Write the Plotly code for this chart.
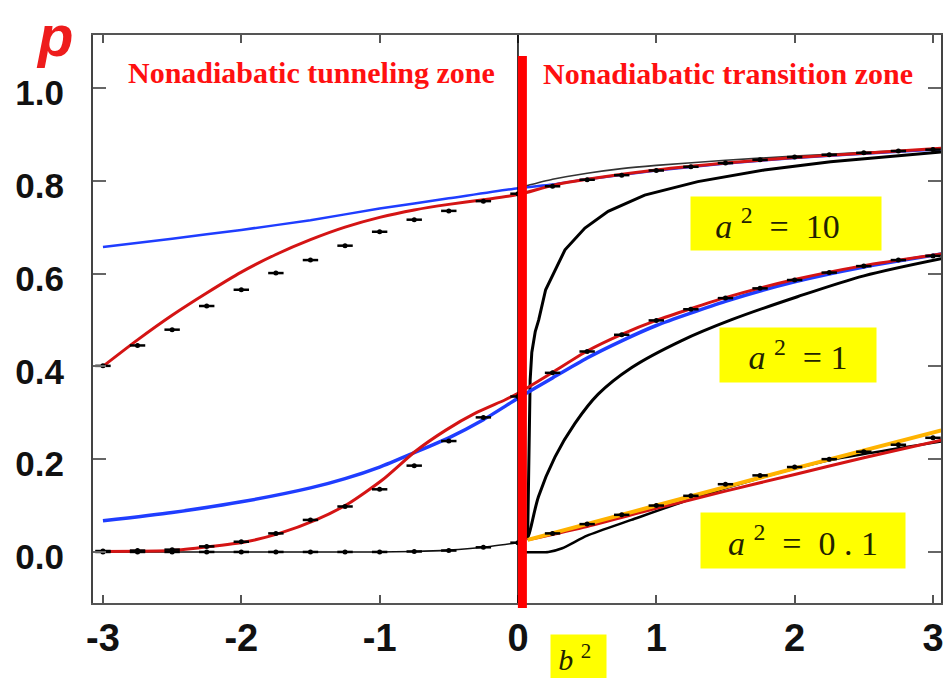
import plotly.graph_objects as go

# ---- marker grid (b^2) ----
mk_x = [-3.0, -2.75, -2.5, -2.25, -2.0, -1.75, -1.5, -1.25, -1.0, -0.75, -0.5, -0.25, 0.0,
        0.25, 0.5, 0.75, 1.0, 1.25, 1.5, 1.75, 2.0, 2.25, 2.5, 2.75, 3.0]

# ---- a^2 = 10 ----
mk10 = [0.401, 0.445, 0.479, 0.530, 0.565, 0.601, 0.629, 0.660, 0.690, 0.716, 0.735, 0.756, 0.772,
        0.788, 0.802, 0.812, 0.822, 0.830, 0.838, 0.845, 0.851, 0.856, 0.860, 0.864, 0.867]
blue10_x = [-3.0, -2.5, -2.0, -1.5, -1.0, -0.5, 0.0, 0.25, 0.5, 1.0, 1.5, 2.0, 2.5, 3.06]
blue10_p = [0.657, 0.675, 0.694, 0.715, 0.740, 0.762, 0.784, 0.792, 0.803, 0.822, 0.837, 0.849, 0.858, 0.868]
red10_x = [-3.0, -2.75, -2.5, -2.25, -2.0, -1.75, -1.5, -1.25, -1.0, -0.75, -0.5, -0.25, 0.0,
           0.25, 0.5, 1.0, 1.5, 2.0, 2.5, 3.06]
red10_p = [0.400, 0.457, 0.510, 0.558, 0.603, 0.641, 0.673, 0.700, 0.721, 0.737, 0.749, 0.759, 0.770,
           0.790, 0.803, 0.823, 0.838, 0.850, 0.859, 0.870]
thin10_x = [0.05, 0.25, 0.5, 0.75, 1.0, 1.5, 2.0, 2.5, 3.06]
thin10_p = [0.788, 0.803, 0.816, 0.826, 0.833, 0.844, 0.853, 0.861, 0.869]
black10_x = [0.07, 0.075, 0.08, 0.088, 0.10, 0.125, 0.15, 0.2, 0.34, 0.484, 0.652, 0.916,
             1.30, 1.78, 2.26, 3.06]
black10_p = [0.03, 0.12, 0.26, 0.37, 0.43, 0.475, 0.50, 0.565, 0.651, 0.698, 0.734, 0.769,
             0.798, 0.823, 0.841, 0.862]

# ---- a^2 = 1 ----
mk1 = [0.002, 0.003, 0.005, 0.012, 0.022, 0.040, 0.069, 0.098, 0.135, 0.186, 0.239, 0.290, 0.335,
       0.386, 0.432, 0.468, 0.499, 0.523, 0.547, 0.568, 0.586, 0.602, 0.616, 0.629, 0.638]
blue1_x = [-3.0, -2.5, -2.0, -1.5, -1.25, -1.0, -0.75, -0.5, -0.25, 0.0,
           0.25, 0.5, 0.75, 1.0, 1.5, 2.0, 2.5, 3.06]
blue1_p = [0.067, 0.085, 0.108, 0.138, 0.158, 0.183, 0.214, 0.246, 0.285, 0.331,
           0.375, 0.418, 0.455, 0.488, 0.540, 0.582, 0.614, 0.642]
red1_x = [-3.0, -2.5, -2.24, -1.965, -1.725, -1.46, -1.221, -0.981, -0.741, -0.524, -0.308, -0.092, 0.0,
          0.25, 0.5, 0.75, 1.0, 1.5, 2.0, 2.5, 3.06]
red1_p = [0.001, 0.003, 0.011, 0.022, 0.040, 0.069, 0.105, 0.155, 0.217, 0.262, 0.299, 0.328, 0.342,
          0.387, 0.433, 0.469, 0.499, 0.548, 0.587, 0.617, 0.642]
black1_x = [0.06, 0.076, 0.148, 0.268, 0.412, 0.58, 0.82, 1.18, 1.54, 2.02, 2.5, 3.06]
black1_p = [0.028, 0.035, 0.119, 0.205, 0.277, 0.340, 0.397, 0.455, 0.50, 0.55, 0.595, 0.632]

# ---- a^2 = 0.1 ----
mk01 = [0.0, 0.0, 0.0, 0.0, 0.0, 0.0, 0.0, 0.0, 0.0, 0.001, 0.003, 0.010, 0.020,
        0.040, 0.060, 0.080, 0.100, 0.121, 0.146, 0.165, 0.183, 0.200, 0.216, 0.231, 0.246]
thin01_x = [-3.0, -1.0, -0.75, -0.5, -0.25, 0.0]
thin01_p = [0.0, 0.0, 0.001, 0.004, 0.010, 0.020]
black01_x = [0.03, 0.22, 0.32, 0.5, 0.82, 1.30, 1.78, 2.26, 3.06]
black01_p = [0.0, 0.0, 0.008, 0.035, 0.069, 0.119, 0.162, 0.198, 0.238]
red01_x = [0.07, 0.5, 1.0, 1.5, 2.0, 2.5, 3.06]
red01_p = [0.026, 0.055, 0.094, 0.131, 0.167, 0.203, 0.241]
orange01_x = [0.07, 1.0, 2.0, 3.06]
orange01_p = [0.026, 0.100, 0.180, 0.262]

x_ticks = [-3, -2, -1, 0, 1, 2, 3]
x_ticktext = ["-3", "-2", "-1", "0", "1", "2", "3"]
y_ticks = [0.0, 0.2, 0.4, 0.6, 0.8, 1.0]
y_ticktext = ["0.0", "0.2", "0.4", "0.6", "0.8", "1.0"]

BLUE = "#1f3dff"
RED = "#d41414"
ORANGE = "#ffb300"

fig = go.Figure()


def line(x, y, color, width, smooth=0.6):
    shape = dict(shape="spline", smoothing=smooth) if smooth else dict(shape="linear")
    fig.add_trace(go.Scatter(x=x, y=y, mode="lines", line=dict(color=color, width=width, **shape),
                             showlegend=False, hoverinfo="skip"))


# thin reference curves
line(thin01_x, thin01_p, "#111111", 1.6)
line(thin10_x, thin10_p, "#333333", 1.6)

# a^2 = 10
line(black10_x, black10_p, "#000000", 3, smooth=0)
line(blue10_x, blue10_p, BLUE, 2.5)
line(red10_x, red10_p, RED, 3)

# a^2 = 1
line(black1_x, black1_p, "#000000", 3, smooth=0.9)
line(blue1_x, blue1_p, BLUE, 3.5)
line(red1_x, red1_p, RED, 3)

# a^2 = 0.1
line(black01_x, black01_p, "#000000", 2.5)
line(red01_x, red01_p, RED, 3)
line(orange01_x, orange01_p, ORANGE, 4)

# dash-dot markers
for series in (mk10, mk1, mk01):
    fig.add_trace(go.Scatter(x=mk_x, y=series, mode="markers",
                             marker=dict(symbol="line-ew", size=11,
                                         line=dict(color="#000000", width=2.5)),
                             showlegend=False, hoverinfo="skip"))
    fig.add_trace(go.Scatter(x=mk_x, y=series, mode="markers",
                             marker=dict(symbol="circle", size=5, color="#000000"),
                             showlegend=False, hoverinfo="skip"))

# b^2 = 0 divider
fig.add_shape(type="line", xref="x", yref="paper", x0=0, x1=0, y0=0, y1=1,
              line=dict(color="#000000", width=1.5), layer="above")
fig.add_shape(type="line", xref="x", yref="paper", x0=0.032, x1=0.032, y0=-0.009, y1=0.963,
              line=dict(color="#ff0000", width=9), layer="above")

# zone titles
zone_font = dict(family="Liberation Serif, Times New Roman, serif", size=30, color="#ff1010",
                 weight="bold")
fig.add_annotation(x=-1.495, y=1.034, xref="x", yref="y", text="Nonadiabatic tunneling zone",
                   showarrow=False, font=zone_font, xanchor="center", yanchor="middle")
fig.add_annotation(x=1.516, y=1.032, xref="x", yref="y", text="Nonadiabatic transition zone",
                   showarrow=False, font=zone_font, xanchor="center", yanchor="middle")

# axis symbols
fig.add_annotation(x=-0.045, y=1.0, xref="paper", yref="paper", text="<i>p</i>",
                   showarrow=False, xanchor="center", yanchor="middle",
                   font=dict(family="Liberation Sans, Arial, sans-serif", size=58,
                             color="#ee1c1c", weight="bold"))

box_font = dict(family="Liberation Serif, Times New Roman, serif", size=34, color="#222200")
NB = "\u00a0"
labels = [
    (1.935, 0.708, 190, 53, f"<i>a</i>{NB}<sup>2</sup>{NB}{NB}={NB}{NB}10{NB}{NB}"),
    (2.021, 0.4246, 156, 54, f"<i>a</i>{NB}<sup>2</sup>{NB}{NB}={NB}1"),
    (2.064, 0.0248, 204, 55, f"<i>a</i>{NB}<sup>2</sup>{NB}{NB}={NB}{NB}0{NB}.{NB}1"),
]
for lx, ly, w, h, txt in labels:
    fig.add_annotation(x=lx, y=ly, xref="x", yref="y", text=txt, showarrow=False,
                       width=w, height=h, bgcolor="#ffff00", borderpad=0, font=box_font,
                       align="center", valign="middle", xanchor="center", yanchor="middle")

fig.add_annotation(x=0.5728, y=-0.0968, xref="paper", yref="paper",
                   text=f"<i>b</i>{NB}<sup>2</sup>{NB}", showarrow=False,
                   width=55, height=45, bgcolor="#ffff00", borderpad=0,
                   xanchor="center", yanchor="middle",
                   font=dict(family="Liberation Serif, Times New Roman, serif", size=30,
                             color="#222200"))

fig.update_layout(
    width=947, height=678,
    margin=dict(l=93, r=3, t=35, b=75),
    paper_bgcolor="white", plot_bgcolor="white",
    showlegend=False,
)
fig.update_xaxes(
    range=[-3.072, 3.058], tickvals=x_ticks, ticktext=x_ticktext, ticks="inside", ticklen=8,
    tickwidth=2, tickcolor="#555555", showline=True, linecolor="#555555", linewidth=2,
    mirror="ticks", showgrid=False, zeroline=False, ticklabelstandoff=0,
    tickfont=dict(family="Liberation Sans, Arial, sans-serif", size=38, color="#111111",
                  weight="bold"),
)
fig.update_yaxes(
    range=[-0.110, 1.114], tickvals=y_ticks, ticktext=y_ticktext, ticks="inside", ticklen=13,
    tickwidth=2, tickcolor="#666666", showline=True, linecolor="#444444", linewidth=2,
    mirror="ticks", showgrid=False, zeroline=False, ticklabelstandoff=20, ticklabelshift=5,
    tickfont=dict(family="Liberation Sans, Arial, sans-serif", size=35, color="#111111",
                  weight="bold"),
)

fig.write_html("out.html")
